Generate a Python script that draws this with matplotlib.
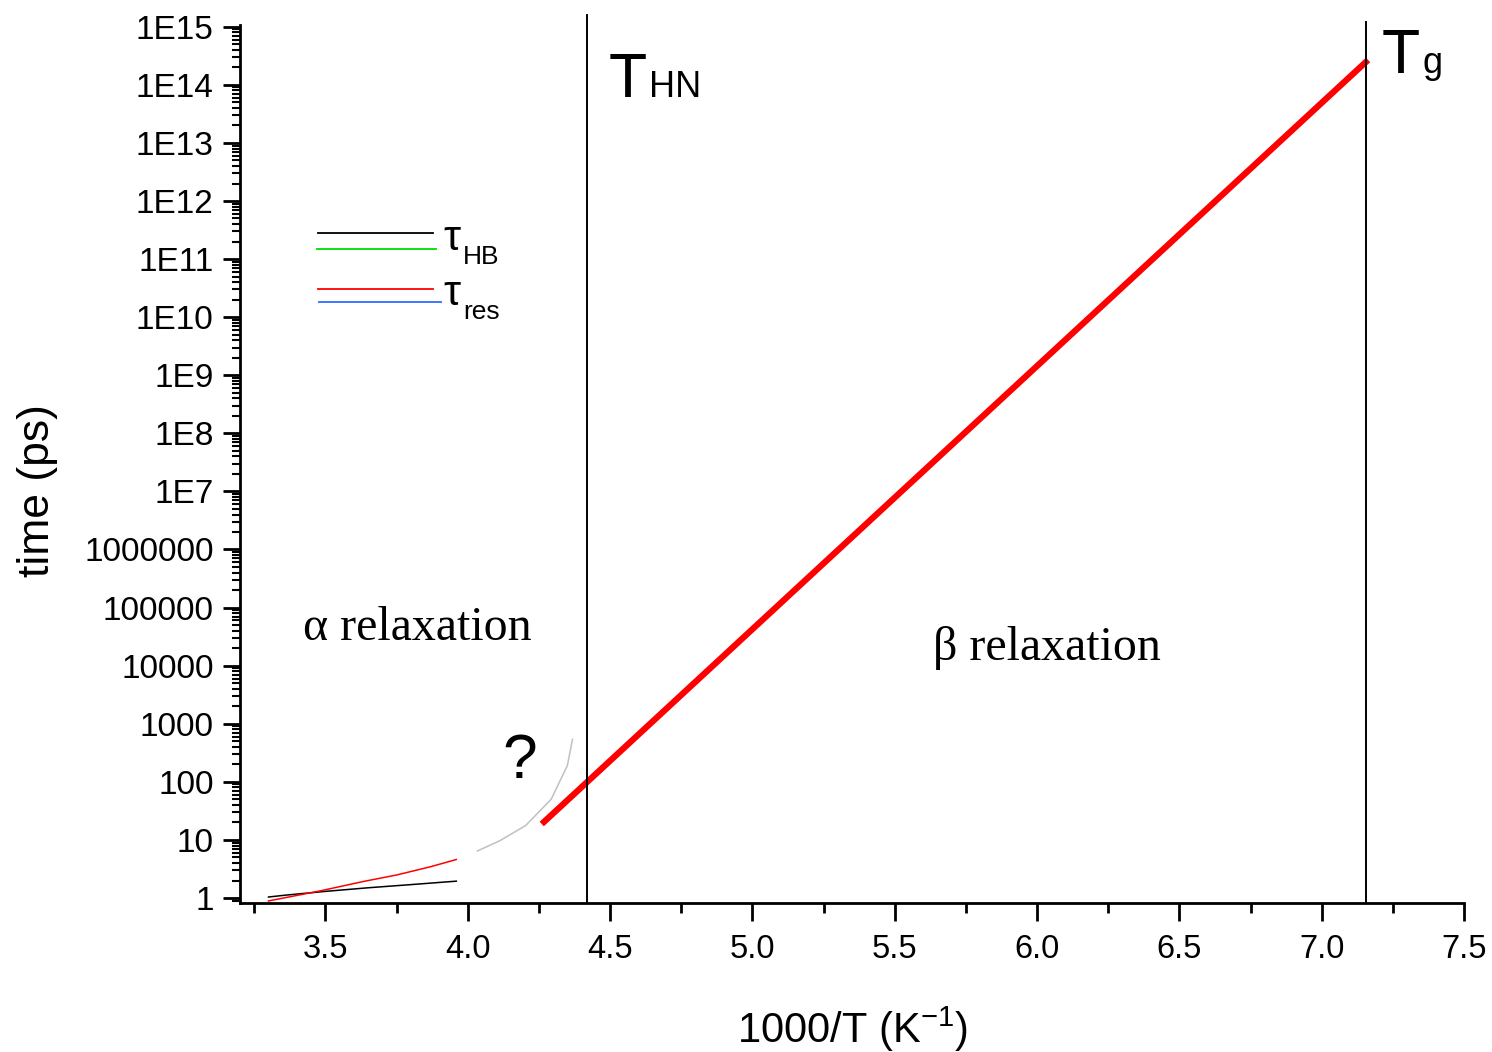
import numpy as np
import matplotlib
matplotlib.use("Agg")
import matplotlib.pyplot as plt
from matplotlib.lines import Line2D
from matplotlib.ticker import FixedLocator, FixedFormatter, LogLocator, NullFormatter

plt.rcParams['font.family'] = ['Liberation Sans', 'DejaVu Sans']
plt.rcParams['mathtext.fontset'] = 'custom'
plt.rcParams['mathtext.rm'] = 'Liberation Sans'
plt.rcParams['mathtext.default'] = 'rm'

# hydrogen-bond lifetime and residence time (alpha regime)
hb_x = [3.30, 3.36, 3.50, 3.65, 3.80, 3.96]
hb_tau = [1.04, 1.12, 1.30, 1.50, 1.70, 1.95]
res_x = [3.30, 3.48, 3.63, 3.75, 3.87, 3.96]
res_tau = [0.89, 1.32, 1.91, 2.49, 3.46, 4.6]

# guessed continuation towards T_HN
guess_x = [4.034, 4.111, 4.203, 4.293, 4.350, 4.368]
guess_tau = [6.45, 9.6, 17.6, 50, 190, 540]

# Arrhenius beta relaxation
beta_x = [4.26, 7.163]
beta_tau = [18.8, 2.68e14]

# characteristic temperatures (1000/T)
t_hn = 4.419
t_g = 7.156

y_ticks = [10.0 ** k for k in range(16)]
y_labels = ["1", "10", "100", "1000", "10000", "100000", "1000000",
            "1E7", "1E8", "1E9", "1E10", "1E11", "1E12", "1E13", "1E14", "1E15"]
x_ticks = [3.5, 4.0, 4.5, 5.0, 5.5, 6.0, 6.5, 7.0, 7.5]
x_labels = ["3.5", "4.0", "4.5", "5.0", "5.5", "6.0", "6.5", "7.0", "7.5"]

fig = plt.figure(figsize=(14.92, 10.52), dpi=100)
ax = fig.add_axes([240 / 1492, 149 / 1052, 1224 / 1492, 878 / 1052])

ax.set_yscale('log')
ax.set_xlim(3.2, 7.5)
ax.set_ylim(10 ** -0.086, 10 ** 15.03)

ax.plot(hb_x, hb_tau, color='black', lw=1.1)
ax.plot(res_x, res_tau, color='red', lw=1.1)
ax.plot(guess_x, guess_tau, color='#c0c0c0', lw=1.1)
ax.plot(beta_x, beta_tau, color='red', lw=4.5, solid_capstyle='butt')

ybot = ax.get_ylim()[0]
ax.plot([t_hn, t_hn], [ybot, 10 ** 15.20], color='black', lw=1.4, clip_on=False)
ax.plot([t_g, t_g], [ybot, 10 ** 15.08], color='black', lw=1.4, clip_on=False)

# axes styling
for s in ['top', 'right']:
    ax.spines[s].set_visible(False)
for s in ['left', 'bottom']:
    ax.spines[s].set_linewidth(2.0)

ax.xaxis.set_major_locator(FixedLocator(x_ticks))
ax.xaxis.set_major_formatter(FixedFormatter(x_labels))
ax.xaxis.set_minor_locator(FixedLocator(np.arange(3.25, 7.5, 0.5)))
ax.yaxis.set_major_locator(FixedLocator(y_ticks))
ax.yaxis.set_major_formatter(FixedFormatter(y_labels))
ax.yaxis.set_minor_locator(LogLocator(base=10, subs=np.arange(2, 10), numticks=40))
ax.yaxis.set_minor_formatter(NullFormatter())

ax.tick_params(axis='x', which='major', direction='out', length=13, width=2, labelsize=23.5, pad=9)
ax.tick_params(axis='x', which='minor', direction='out', length=7, width=2)
ax.tick_params(axis='y', which='major', direction='out', length=12, width=2, labelsize=24, pad=7)
ax.tick_params(axis='y', which='minor', direction='out', length=6, width=1.5)

ax.set_xlabel("1000/T (K$^{-1}$)", fontsize=30, labelpad=29)

# legend drawn by hand
def px(x, y):
    return x / 1492, 1 - y / 1052

fig.text(*px(38, 491), "time (ps)", fontsize=32, rotation=90, ha='center', va='center')

for x0, x1, y, c in [(318, 433, 233, 'black'), (317, 436, 249, '#00dd00'),
                     (318, 433, 289, 'red'), (319, 441, 302, '#2f6bff')]:
    (a, b), (c2, _) = px(x0, y), px(x1, y)
    fig.add_artist(Line2D([a, c2], [b, b], color=c, lw=1.3))

fig.text(*px(443, 250), "τ", fontsize=31, ha='left', va='baseline')
fig.text(*px(463, 264), "HB", fontsize=19, ha='left', va='baseline')
fig.text(*px(443, 305), "τ", fontsize=31, ha='left', va='baseline')
fig.text(*px(463, 319), "res", fontsize=19, ha='left', va='baseline')

fig.text(*px(303, 640), "α relaxation", fontsize=34.5, family='Liberation Serif',
         ha='left', va='baseline')
fig.text(*px(933, 660), "β relaxation", fontsize=34.5, family='Liberation Serif',
         ha='left', va='baseline')
fig.text(*px(502, 778), "?", fontsize=45, ha='left', va='baseline')

fig.text(*px(609, 97), "T", fontsize=45, ha='left', va='baseline')
fig.text(*px(649, 97), "HN", fontsize=26, ha='left', va='baseline')
fig.text(*px(1382, 73), "T", fontsize=45, ha='left', va='baseline')
fig.text(*px(1423, 73), "g", fontsize=26, ha='left', va='baseline')

fig.savefig("out.png", dpi=100)
